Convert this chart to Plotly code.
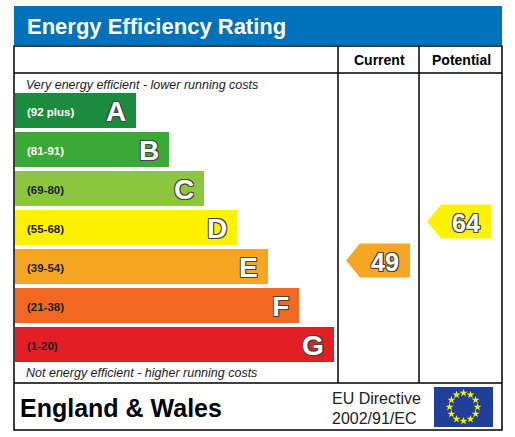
import numpy as np
import plotly.graph_objects as go

bands = ["A", "B", "C", "D", "E", "F", "G"]
ranges = ["(92 plus)", "(81-91)", "(69-80)", "(55-68)", "(39-54)", "(21-38)", "(1-20)"]
band_ends = [136, 169, 204, 237, 268, 299, 334]
band_colors = ["#1b8b3d", "#3aa936", "#8cc63f", "#fff200", "#f6a623", "#f26722", "#e31e25"]
current_value, current_band = 49, "E"
potential_value, potential_band = 64, "D"

outline = "-1px -1px 0 #444, 1px -1px 0 #444, -1px 1px 0 #444, 1px 1px 0 #444"
fig = go.Figure()
shapes = []
ann = []

# title bar and frame
shapes.append(dict(type="rect", x0=14, x1=502, y0=6, y1=45, fillcolor="#0072bc", line_width=0))
ann.append(dict(x=25, y=26, text="<b>Energy Efficiency Rating</b>", xanchor="left",
                font=dict(size=22, color="white", family="Arial")))
shapes.append(dict(type="rect", x0=14, x1=502, y0=46, y1=430, line=dict(color="black", width=1.5)))
for y in [73, 383]:
    shapes.append(dict(type="line", x0=14, x1=502, y0=y, y1=y, line=dict(color="black", width=1.5)))
for x in [338, 419]:
    shapes.append(dict(type="line", x0=x, x1=x, y0=46, y1=383, line=dict(color="black", width=1.5)))
ann.append(dict(x=379, y=60, text="<b>Current</b>", font=dict(size=14, color="black", family="Arial")))
ann.append(dict(x=461, y=60, text="<b>Potential</b>", font=dict(size=14, color="black", family="Arial")))
ann.append(dict(x=24, y=85, text="<i>Very energy efficient - lower running costs</i>", xanchor="left",
                font=dict(size=12.5, color="#222", family="Arial")))
ann.append(dict(x=24, y=373, text="<i>Not energy efficient - higher running costs</i>", xanchor="left",
                font=dict(size=12.5, color="#222", family="Arial")))

band_mid = {}
for i, (b, r, e, c) in enumerate(zip(bands, ranges, band_ends, band_colors)):
    y0 = 93 + i * 39
    y1 = y0 + 35
    band_mid[b] = (y0 + y1) / 2
    fig.add_trace(go.Scatter(x=[15, e, e, 15, 15], y=[y0, y0, y1, y1, y0], fill="toself",
                             fillcolor=c, line_width=0, mode="none", hoverinfo="skip"))
    tc = "white" if i < 2 else "#222"
    ann.append(dict(x=25, y=band_mid[b] + 1, text="<b>" + r + "</b>", xanchor="left",
                    font=dict(size=11.5, color=tc, family="Arial")))
    ann.append(dict(x=e - 8, y=band_mid[b] + 1, text="<b>" + b + "</b>", xanchor="right",
                    font=dict(size=28, color="white", family="Arial", shadow=outline)))


def arrow(x0, x1, yc, val, color):
    h = 17
    fig.add_trace(go.Scatter(x=[x0, x0 + 14, x1, x1, x0 + 14, x0], y=[yc, yc - h, yc - h, yc + h, yc + h, yc],
                             fill="toself", fillcolor=color, line_width=0, mode="none", hoverinfo="skip"))
    ann.append(dict(x=(x0 + 14 + x1) / 2, y=yc + 1, text="<b>%d</b>" % val,
                    font=dict(size=25, color="white", family="Arial", shadow=outline)))


arrow(346, 410, band_mid[current_band] - 6, current_value, band_colors[bands.index(current_band)])
arrow(427, 491, band_mid[potential_band] - 6, potential_value, band_colors[bands.index(potential_band)])

# footer
ann.append(dict(x=18, y=408, text="<b>England &amp; Wales</b>", xanchor="left",
                font=dict(size=25, color="black", family="Arial")))
ann.append(dict(x=330, y=398, text="EU Directive", xanchor="left", font=dict(size=16, color="#222", family="Arial")))
ann.append(dict(x=330, y=418, text="2002/91/EC", xanchor="left", font=dict(size=16, color="#222", family="Arial")))
shapes.append(dict(type="rect", x0=434, x1=493, y0=387, y1=427, fillcolor="#1f3f9a", line_width=0, layer="below"))
ang = np.arange(12) * np.pi / 6
fig.add_trace(go.Scatter(x=463.5 + 14 * np.cos(ang), y=407 + 14 * np.sin(ang), mode="markers",
                         marker=dict(symbol="star", size=6, color="#ffed00"), hoverinfo="skip"))

fig.update_layout(width=515, height=437, margin=dict(l=0, r=0, t=0, b=0), showlegend=False,
                  plot_bgcolor="white", paper_bgcolor="white", shapes=shapes, annotations=ann,
                  xaxis=dict(range=[0, 515], visible=False, fixedrange=True),
                  yaxis=dict(range=[437, 0], visible=False, fixedrange=True))
for a in fig.layout.annotations:
    a.showarrow = False
fig.write_html("out.html", config={"displayModeBar": False},
               post_script="document.body.style.margin='0';")
